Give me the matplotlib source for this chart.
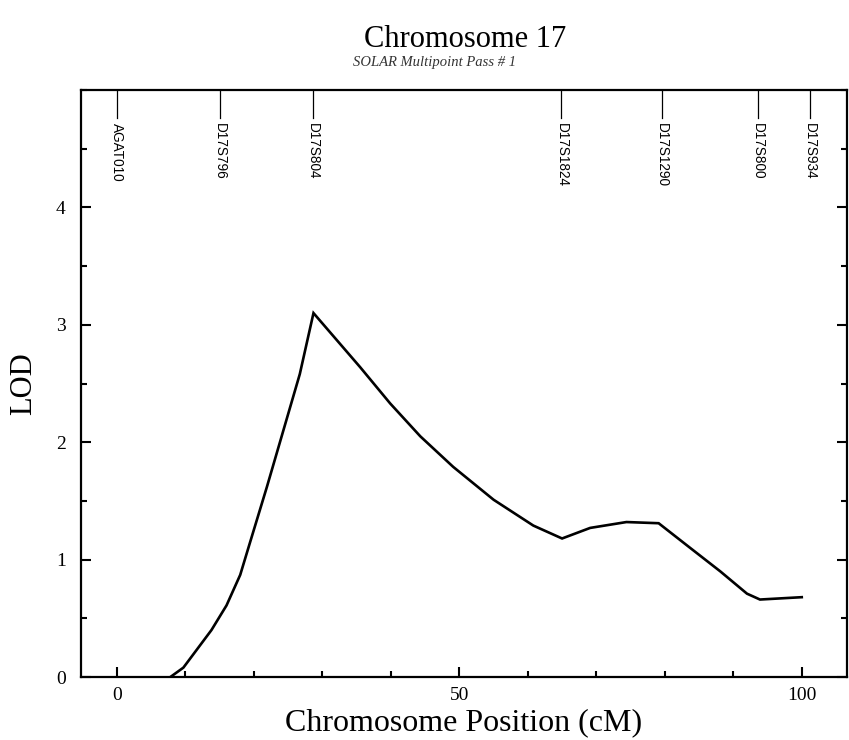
import matplotlib.pyplot as plt
from matplotlib.ticker import MultipleLocator, FixedLocator

# Multipoint LOD scores along chromosome 17 (position in cM, LOD)
position_cm = [7.8, 9.7, 13.8, 16.0, 18.0, 19.4, 21.9, 24.3, 26.7, 28.7,
               32.1, 35.5, 39.9, 44.3, 49.1, 55.0, 60.8, 65.0, 69.1, 74.4,
               79.1, 83.7, 88.1, 92.0, 93.9, 100.0]
lod = [0.0, 0.08, 0.40, 0.61, 0.87, 1.14, 1.62, 2.10, 2.58, 3.10,
       2.87, 2.64, 2.33, 2.05, 1.79, 1.51, 1.29, 1.18, 1.27, 1.32,
       1.31, 1.10, 0.90, 0.71, 0.66, 0.68]

# Marker names and map positions shown along the top of the plot
markers = ["AGAT010", "D17S796", "D17S804", "D17S1824", "D17S1290", "D17S800", "D17S934"]
marker_cm = [0.0, 15.0, 28.6, 64.9, 79.6, 93.6, 101.2]

serif = ["Liberation Serif", "DejaVu Serif"]
sans = ["Liberation Sans", "DejaVu Sans"]

fig = plt.figure(figsize=(8.49, 7.40), dpi=100)
ax = fig.add_axes([0.0954, 0.0851, 0.9022, 0.7933])

ax.plot(position_cm, lod, color="black", linewidth=1.9, solid_joinstyle="miter")

ax.set_xlim(-5.25, 106.6)
ax.set_ylim(0, 5)

# Marker ticks hang down from the top spine with rotated names below them
for name, cm in zip(markers, marker_cm):
    ax.plot([cm, cm], [5.0, 4.76], color="black", linewidth=0.9)
    ax.text(cm, 4.72, name, rotation=-90, ha="center", va="top",
            fontsize=9.8, family=sans)

ax.xaxis.set_major_locator(MultipleLocator(50))
ax.xaxis.set_minor_locator(MultipleLocator(10))
ax.yaxis.set_major_locator(FixedLocator([0, 1, 2, 3, 4]))
ax.yaxis.set_minor_locator(MultipleLocator(0.5))
ax.tick_params(axis="both", which="both", direction="in", width=1.5,
               top=False, right=True)
ax.tick_params(which="major", length=7)
ax.tick_params(which="minor", length=4)
ax.tick_params(axis="x", pad=7, labelsize=14)
ax.tick_params(axis="y", pad=11, labelsize=14)
for lab in ax.get_xticklabels() + ax.get_yticklabels():
    lab.set_family(serif)

for side in ax.spines.values():
    side.set_linewidth(1.6)

ax.set_xlabel("Chromosome Position (cM)", fontsize=23, family=serif, labelpad=3)
ax.set_ylabel("LOD", fontsize=22, family=serif, labelpad=13)

fig.text(0.548, 0.946, "Chromosome 17", ha="center", va="center",
         fontsize=22, family=serif)
fig.text(0.512, 0.915, "SOLAR Multipoint Pass # 1", ha="center", va="center",
         fontsize=10.5, family=serif, style="italic", color="#333333")

fig.savefig("out.png", dpi=100)
